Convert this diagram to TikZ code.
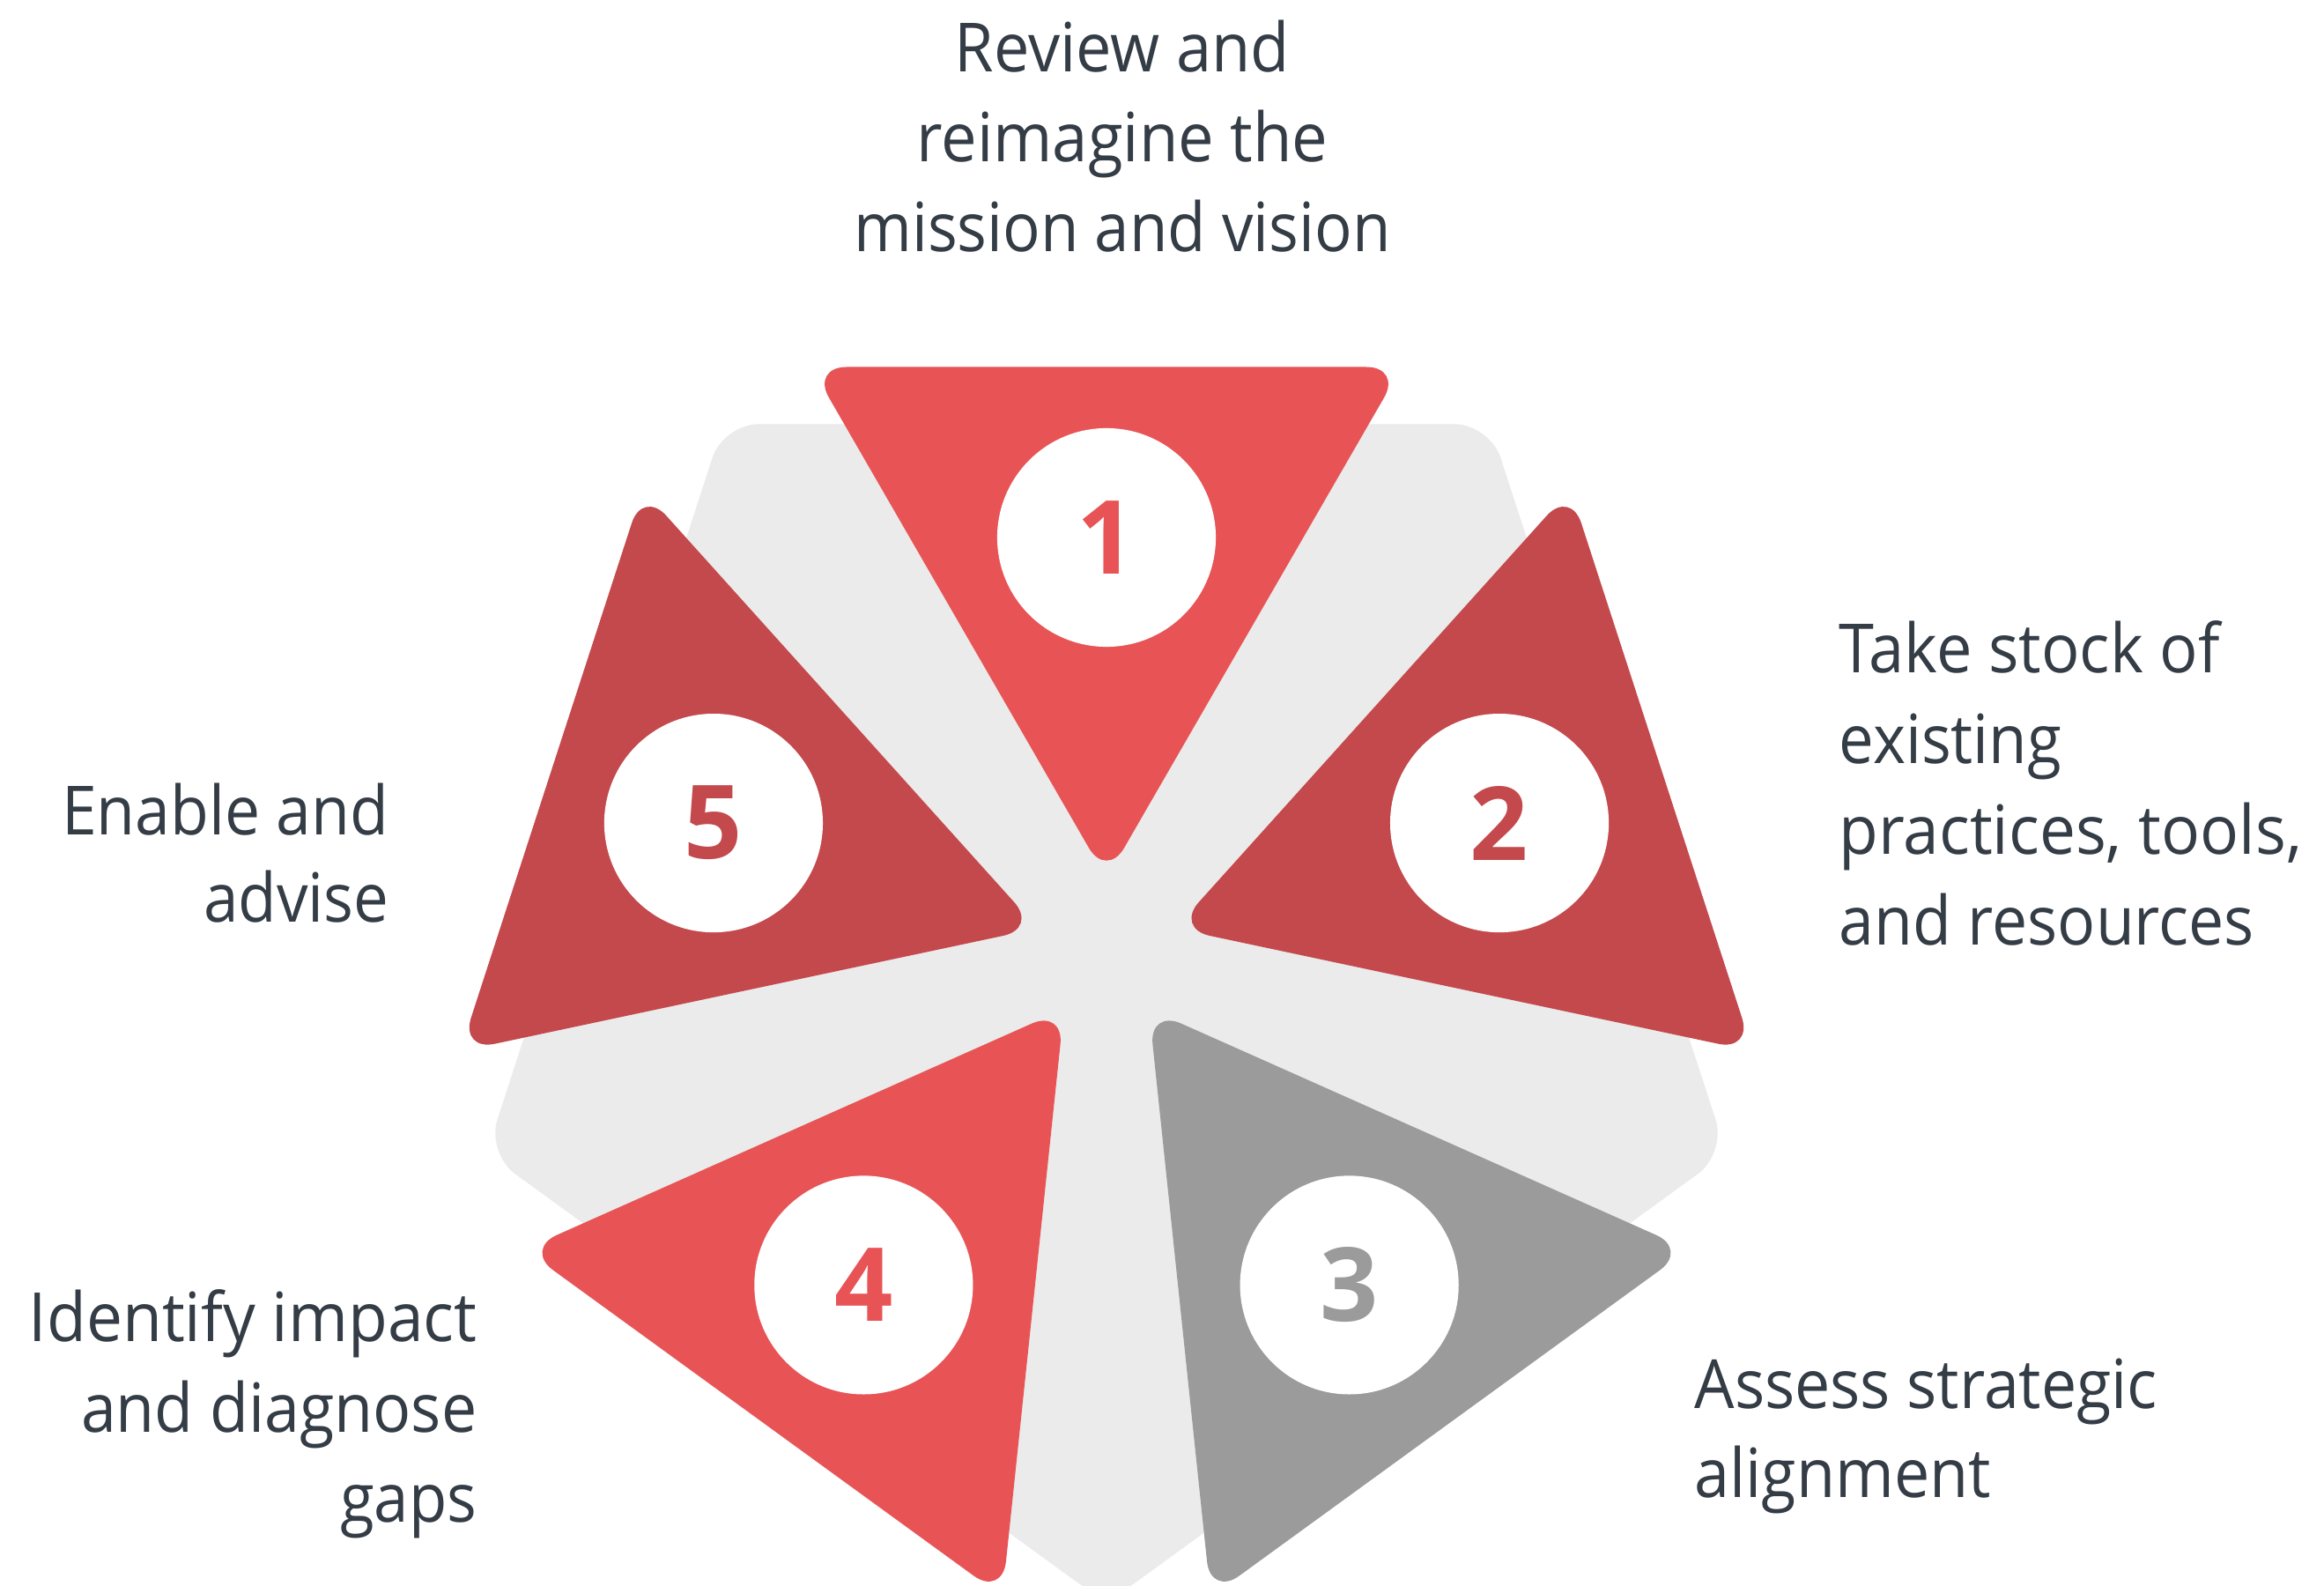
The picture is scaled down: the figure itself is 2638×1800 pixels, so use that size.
\documentclass[tikz,border=0pt]{standalone}
\usepackage{fontspec}
\setmainfont{Open Sans}
\usepackage{graphicx}
\usetikzlibrary{calc}
\definecolor{redL}{HTML}{E85456}
\definecolor{redD}{HTML}{C4494D}
\definecolor{grayT}{HTML}{9B9B9B}
\definecolor{bgP}{HTML}{EBEBEB}
\definecolor{txt}{HTML}{343C46}
\newcommand{\fitw}[2]{\resizebox{#1}{\height}{#2}}
\begin{document}
\begin{tikzpicture}[x=0.01cm,y=-0.01cm,
  lbl/.style={inner sep=0, text=txt, font=\fontsize{21.9}{29}\selectfont},
  numc/.style={circle, fill=white, minimum size=2.48cm, inner sep=0,
               font=\fontsize{33}{33}\selectfont\bfseries},
  tripiece/.style={rounded corners=0.4cm},
  pentabg/.style={fill=bgP, rounded corners=0.4cm}]
\useasboundingbox (0,0) rectangle (2638,1800);
\fill[white] (0,0) rectangle (2638,1800);
\coordinate (O) at (1256,1079);
\coordinate (Pc) at (1256,1080);
% background pentagon
\fill[pentabg] ($(Pc)+(90:740)$) -- ($(Pc)+(162:740)$) -- ($(Pc)+(234:740)$)
   -- ($(Pc)+(306:740)$) -- ($(Pc)+(18:740)$) -- cycle;
% centroids
\coordinate (c1) at ($(O)+(-90:469)$);
\coordinate (c2) at ($(O)+(-18:469)$);
\coordinate (c3) at ($(O)+(54:469)$);
\coordinate (c4) at ($(O)+(126:469)$);
\coordinate (c5) at ($(O)+(-162:469)$);
% triangles
\fill[redL, tripiece] ($(c1)+(90:387)$) -- ($(c1)+(-150:387)$) -- ($(c1)+(-30:387)$) -- cycle;
\fill[redD, tripiece] ($(c2)+(-198:387)$) -- ($(c2)+(-78:387)$) -- ($(c2)+(42:387)$) -- cycle;
\fill[grayT, tripiece] ($(c3)+(-126:387)$) -- ($(c3)+(-6:387)$) -- ($(c3)+(114:387)$) -- cycle;
\fill[redL, tripiece] ($(c4)+(-54:387)$) -- ($(c4)+(66:387)$) -- ($(c4)+(186:387)$) -- cycle;
\fill[redD, tripiece] ($(c5)+(-342:387)$) -- ($(c5)+(-222:387)$) -- ($(c5)+(-102:387)$) -- cycle;
% number circles
\node[numc, text=redL] (n1) at (c1) {1};
\node[numc, text=redD] (n2) at (c2) {2};
\node[numc, text=grayT] (n3) at (c3) {3};
\node[numc, text=redL] (n4) at (c4) {4};
\node[numc, text=redD] (n5) at (c5) {5};
% labels: step 1 (top)
\node[lbl, anchor=base] (t1a) at (1274,82) {\fitw{3.80cm}{Review and}};
\node[lbl, anchor=base] (t1b) at (1274,184) {\fitw{4.67cm}{reimagine the}};
\node[lbl, anchor=base] (t1c) at (1274,286) {\fitw{6.09cm}{mission and vision}};
% step 2 (right)
\node[lbl, anchor=base west] (t2a) at (2087,763) {\fitw{4.32cm}{Take stock of}};
\node[lbl, anchor=base west] (t2b) at (2087,866) {\fitw{2.52cm}{existing}};
\node[lbl, anchor=base west] (t2c) at (2087,969) {\fitw{5.25cm}{practices, tools,}};
\node[lbl, anchor=base west] (t2d) at (2087,1072) {\fitw{4.71cm}{and resources}};
% step 3
\node[lbl, anchor=base west] (t3a) at (1923,1598) {\fitw{5.25cm}{Assess strategic}};
\node[lbl, anchor=base west] (t3b) at (1923,1699) {\fitw{3.36cm}{alignment}};
% step 4
\node[lbl, anchor=base east] (t4a) at (542,1522) {\fitw{5.08cm}{Identify impact}};
\node[lbl, anchor=base east] (t4b) at (542,1625) {\fitw{4.49cm}{and diagnose}};
\node[lbl, anchor=base east] (t4c) at (542,1727) {\fitw{1.55cm}{gaps}};
% step 5
\node[lbl, anchor=base east] (t5a) at (442,947) {\fitw{3.71cm}{Enable and}};
\node[lbl, anchor=base east] (t5b) at (442,1046) {\fitw{2.10cm}{advise}};
\end{tikzpicture}
\end{document}
